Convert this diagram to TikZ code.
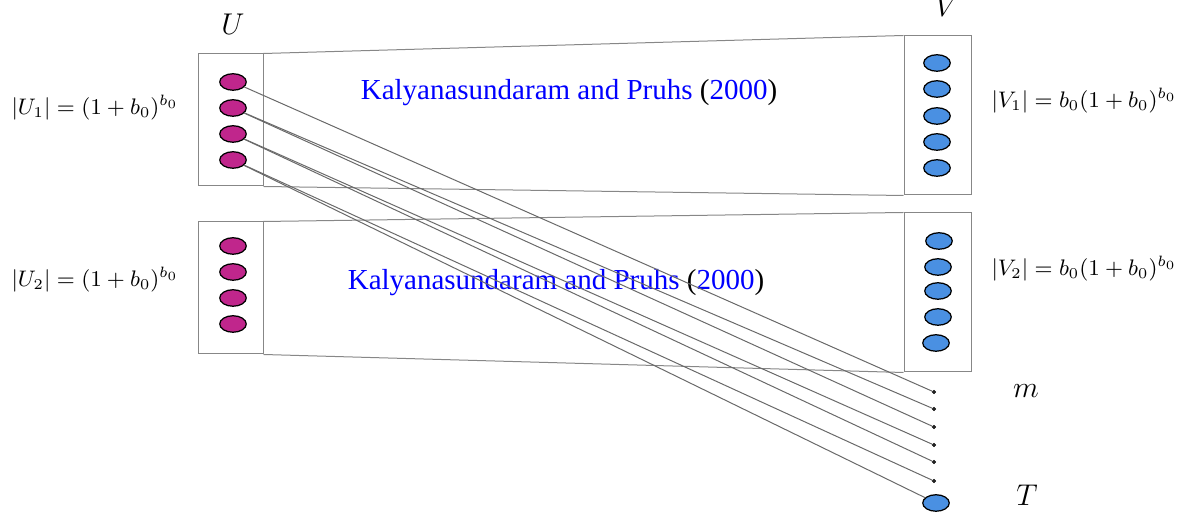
\documentclass[tikz,border=0pt]{standalone}
\usepackage[no-math]{fontspec}
\newfontfamily\citefont{Liberation Serif}
\usetikzlibrary{shapes.geometric}
\definecolor{umag}{RGB}{192,38,140}
\definecolor{vblue}{RGB}{74,144,226}
\definecolor{boxgray}{RGB}{135,135,135}
\definecolor{linegray}{RGB}{105,105,105}
\definecolor{dotgray}{RGB}{70,70,70}
\begin{document}
\begin{tikzpicture}[x=0.4pt,y=-0.4pt,
 ubox/.style={draw=boxgray, line width=0.4pt, minimum width=26pt, minimum height=52.8pt, inner sep=0},
 vbox/.style={draw=boxgray, line width=0.4pt, minimum width=26.8pt, minimum height=63.6pt, inner sep=0},
 edgeline/.style={draw=boxgray, line width=0.4pt},
 uel/.style={ellipse, draw=black, fill=umag, line width=0.5pt, minimum width=10.6pt, minimum height=6.6pt, inner sep=0},
 vel/.style={ellipse, draw=black, fill=vblue, line width=0.5pt, minimum width=10.6pt, minimum height=6.6pt, inner sep=0},
 dotnode/.style={circle, draw=black, fill=dotgray, minimum size=1.3pt, inner sep=0, line width=0.3pt},
 conn/.style={draw=linegray, line width=0.4pt},
 cite/.style={font=\citefont\fontsize{11.6}{14}\selectfont, inner sep=0},
 biglabel/.style={font=\large, inner sep=0, anchor=base},
 setlabel/.style={font=\fontsize{9.1}{11}\selectfont, inner sep=0, anchor=base west}
]
\path[use as bounding box] (0,0) rectangle (1189,518);

% boxes
\node[ubox] (ub1) at (230.5,120) {};
\node[vbox] (vb1) at (937.5,115.5) {};
\node[ubox] (ub2) at (230.5,288) {};
\node[vbox] (vb2) at (937.5,292.5) {};
\draw[edgeline] (ub1.north east) -- (vb1.north west);
\draw[edgeline] (ub1.south east) -- (vb1.south west);
\draw[edgeline] (ub2.north east) -- (vb2.north west);
\draw[edgeline] (ub2.south east) -- (vb2.south west);

% citations
\node[cite] (c1) at (569,93) {{\color{blue}Kalyanasundaram and Pruhs} ({\color{blue}2000})};
\node[cite] (c2) at (556,283) {{\color{blue}Kalyanasundaram and Pruhs} ({\color{blue}2000})};

% U ellipses
\node[uel] (u1) at (233,82) {};
\node[uel] (u2) at (233,108) {};
\node[uel] (u3) at (233,134) {};
\node[uel] (u4) at (233,160) {};
\node[uel] (w1) at (233,246) {};
\node[uel] (w2) at (233,272) {};
\node[uel] (w3) at (233,298) {};
\node[uel] (w4) at (233,324) {};

% V ellipses
\node[vel] (v1) at (937,63) {};
\node[vel] (v2) at (937,89) {};
\node[vel] (v3) at (937,116) {};
\node[vel] (v4) at (937,142) {};
\node[vel] (v5) at (937,168) {};
\node[vel] (x1) at (939,241) {};
\node[vel] (x2) at (938,267) {};
\node[vel] (x3) at (938,291) {};
\node[vel] (x4) at (938,317) {};
\node[vel] (x5) at (936,343) {};

% m dots and T
\node[dotnode] (d1) at (934,392) {};
\node[dotnode] (d2) at (934,409) {};
\node[dotnode] (d3) at (934,427) {};
\node[dotnode] (d4) at (934,445) {};
\node[dotnode] (d5) at (934,462) {};
\node[dotnode] (d6) at (934,481) {};
\node[vel] (t) at (936,503) {};

% connectors
\draw[conn] (u1) -- (d1);
\draw[conn] (u2) -- (d2);
\draw[conn] (u2) -- (d3);
\draw[conn] (u3) -- (d4);
\draw[conn] (u3) -- (d5);
\draw[conn] (u4) -- (d6);
\draw[conn] (u4) -- (t);

% labels
\node[biglabel] (lu) at (233,35) {$U$};
\node[biglabel] (lv) at (947,17) {$V$};
\node[biglabel] (lm) at (1026,398) {$m$};
\node[biglabel] (lt) at (1027,506) {$T$};
\node[setlabel] (su1) at (11,115) {$|U_1| = (1+b_0)^{b_0}$};
\node[setlabel] (su2) at (11,287) {$|U_2| = (1+b_0)^{b_0}$};
\node[setlabel] (sv1) at (991,108) {$|V_1| = b_0(1+b_0)^{b_0}$};
\node[setlabel] (sv2) at (991,276) {$|V_2| = b_0(1+b_0)^{b_0}$};
\end{tikzpicture}
\end{document}
